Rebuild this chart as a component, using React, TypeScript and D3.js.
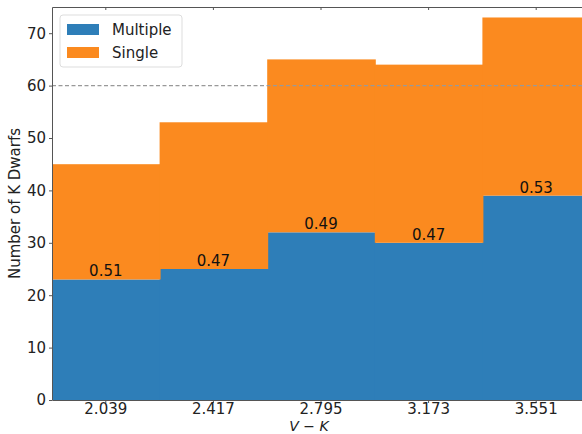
import React, { useEffect, useRef } from 'react';
import * as d3 from 'd3';

const categories = ['2.039', '2.417', '2.795', '3.173', '3.551'];
const multiple = [23, 25, 32, 30, 39];
const single = [22, 28, 33, 34, 34];
const fractions = ['0.51', '0.47', '0.49', '0.47', '0.53'];
const yTicks = [0, 10, 20, 30, 40, 50, 60, 70];

const W = 582;
const H = 434;
const BLUE = '#2e7eb8';
const ORANGE = '#fb8a1f';
const FONT = 'DejaVu Sans, sans-serif';

const App = () => {
  const ref = useRef<SVGSVGElement>(null);

  useEffect(() => {
    const svg = d3.select(ref.current).attr('width', W).attr('height', H);
    svg.selectAll('*').remove();

    const left = 52, top = 7, bottom = 400;
    const right = left + 5 * 107.6;

    const x = d3.scaleBand().domain(categories).range([left, right]).padding(0);
    const y = d3.scaleLinear().domain([0, 75]).range([bottom, top]);

    const rows = categories.map((c, i) => ({ c, m: multiple[i], s: single[i], f: fractions[i] }));

    // Stacked bars (slightly widened so neighbouring bars meet without seams)
    svg.selectAll('rect.m').data(rows).enter().append('rect')
      .attr('x', d => x(d.c)!)
      .attr('y', d => y(d.m))
      .attr('width', x.bandwidth() + 1)
      .attr('height', d => bottom - y(d.m))
      .attr('fill', BLUE);

    svg.selectAll('rect.s').data(rows).enter().append('rect')
      .attr('x', d => x(d.c)!)
      .attr('y', d => y(d.m + d.s))
      .attr('width', x.bandwidth() + 1)
      .attr('height', d => y(d.m) - y(d.m + d.s))
      .attr('fill', ORANGE);

    // Dashed reference line at 60
    svg.append('line')
      .attr('x1', left).attr('x2', W)
      .attr('y1', y(60)).attr('y2', y(60))
      .attr('stroke', '#999').attr('stroke-width', 1.2)
      .attr('stroke-dasharray', '4,2.5');

    // Fraction labels
    svg.selectAll('text.frac').data(rows).enter().append('text')
      .attr('x', d => x(d.c)! + x.bandwidth() / 2)
      .attr('y', d => y(d.m) - 3)
      .attr('text-anchor', 'middle')
      .attr('font-family', FONT).attr('font-size', 15).attr('fill', '#111')
      .text(d => d.f);

    // Axes
    const gx = svg.append('g')
      .attr('transform', `translate(0,${bottom})`)
      .call(d3.axisBottom(x).tickSize(3).tickSizeOuter(0).tickPadding(0));
    gx.select('.domain').attr('stroke', '#555');
    gx.selectAll('line').attr('stroke', '#555');
    gx.selectAll('text').attr('font-family', FONT).attr('font-size', 15).attr('fill', '#222');

    const gxTop = svg.append('g')
      .attr('transform', `translate(0,${top})`)
      .call(d3.axisBottom(x).tickSize(3).tickSizeOuter(0).tickFormat(() => ''));
    gxTop.select('.domain').attr('stroke', '#555');
    gxTop.selectAll('line').attr('stroke', '#555');

    const gy = svg.append('g')
      .attr('transform', `translate(${left},0)`)
      .call(d3.axisLeft(y).tickValues(yTicks).tickSize(3).tickSizeOuter(0).tickPadding(3));
    gy.select('.domain').attr('stroke', '#555');
    gy.selectAll('line').attr('stroke', '#555');
    gy.selectAll('text').attr('font-family', FONT).attr('font-size', 15).attr('fill', '#222');

    // Axis labels
    svg.append('text')
      .attr('transform', `translate(20,${(top + bottom) / 2}) rotate(-90)`)
      .attr('text-anchor', 'middle')
      .attr('font-family', FONT).attr('font-size', 15).attr('fill', '#222')
      .text('Number of K Dwarfs');

    const xl = svg.append('text')
      .attr('x', 309).attr('y', 430.5)
      .attr('text-anchor', 'middle')
      .attr('font-family', FONT).attr('font-size', 14).attr('fill', '#222');
    xl.append('tspan').attr('font-style', 'italic').text('V');
    xl.append('tspan').text(' − ');
    xl.append('tspan').attr('font-style', 'italic').text('K');

    // Legend
    const lg = svg.append('g');
    lg.append('rect')
      .attr('x', 60).attr('y', 15).attr('width', 122).attr('height', 52)
      .attr('rx', 3).attr('fill', 'white').attr('fill-opacity', 0.85)
      .attr('stroke', '#ddd');
    [{ name: 'Multiple', color: BLUE }, { name: 'Single', color: ORANGE }].forEach((d, i) => {
      lg.append('rect')
        .attr('x', 67).attr('y', 24 + i * 23).attr('width', 32).attr('height', 11)
        .attr('fill', d.color);
      lg.append('text')
        .attr('x', 112).attr('y', 35 + i * 23)
        .attr('font-family', FONT).attr('font-size', 15).attr('fill', '#222')
        .text(d.name);
    });
  }, []);

  return <svg ref={ref} style={{ position: 'absolute', left: 0, top: 0 }}></svg>;
};

export default App;
